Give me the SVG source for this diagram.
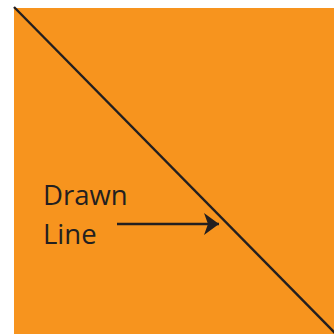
<svg xmlns="http://www.w3.org/2000/svg" width="334" height="334" viewBox="0 0 334 334">
  <style>
    .ink { stroke: #231f20; stroke-width: 2.4; fill: none; }
    .lbl { font-family: "Open Sans", "Liberation Sans", sans-serif; font-size: 27.5px; fill: #231f20; }
  </style>
  <defs>
    <marker id="head" markerUnits="userSpaceOnUse" markerWidth="20" markerHeight="26" refX="15" refY="11" orient="auto">
      <path d="M0,0 L15,11 L0,22 L4,11 Z" fill="#231f20"/>
    </marker>
  </defs>
  <rect x="0" y="0" width="334" height="334" fill="#ffffff"/>
  <g id="square">
    <rect x="14" y="8" width="320" height="326" fill="#f7941e"/>
  </g>
  <g id="drawn-line">
    <line class="ink" x1="14" y1="7" x2="336" y2="334"/>
  </g>
  <g id="label">
    <text class="lbl" x="43" y="205">Drawn</text>
    <text class="lbl" x="43" y="243.5">Line</text>
  </g>
  <g id="connectors">
    <line class="ink" x1="117" y1="224" x2="219" y2="224" marker-end="url(#head)"/>
  </g>
</svg>
